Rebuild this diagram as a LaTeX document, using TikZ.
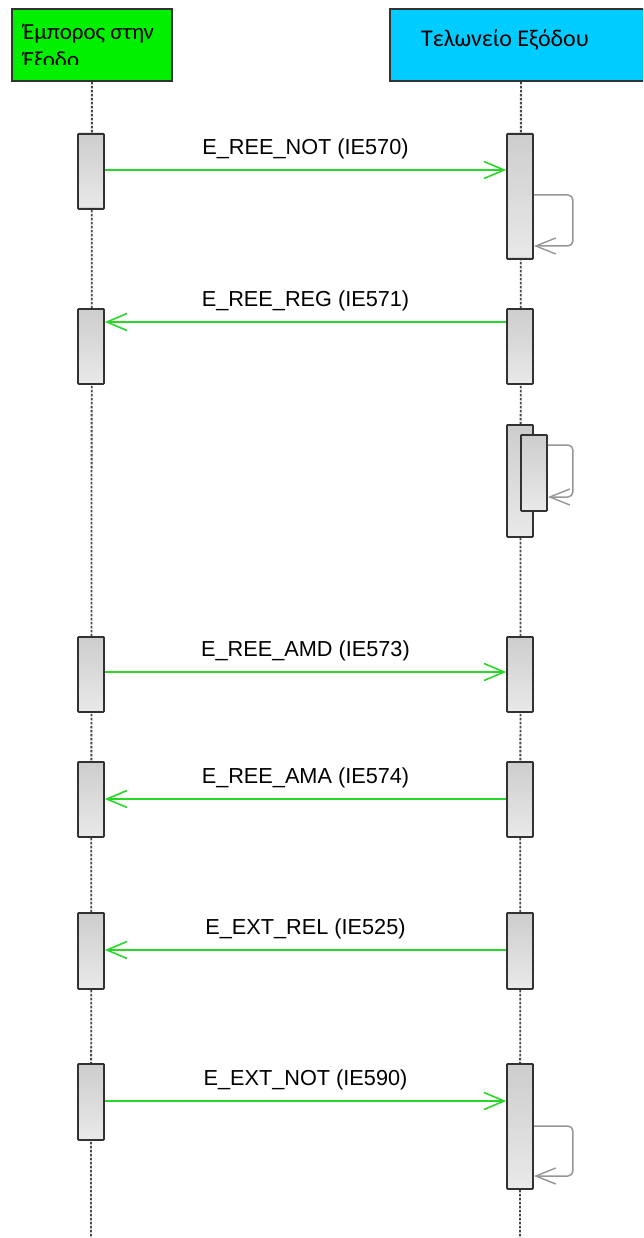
\documentclass[tikz,border=0pt]{standalone}
\usepackage{fontspec}
\setmainfont{Liberation Sans}
\newfontfamily\hdrfont{Carlito}
\usetikzlibrary{arrows.meta}
\definecolor{hgreen}{RGB}{0,240,0}
\definecolor{hcyan}{RGB}{0,204,255}
\definecolor{edgec}{RGB}{50,50,50}
\definecolor{msggreen}{RGB}{40,215,40}
\definecolor{loopgray}{RGB}{150,150,150}
\definecolor{lifegray}{RGB}{70,70,70}
\definecolor{actTop}{RGB}{205,205,205}
\definecolor{actBot}{RGB}{233,233,233}
\begin{document}
\begin{tikzpicture}[x=1pt,y=-1pt,
  header/.style={draw=edgec,line width=1.8pt,minimum height=72pt,inner sep=0pt},
  hdr/.style={font=\hdrfont\fontsize{23}{26}\selectfont,text=black,inner sep=0pt},
  act/.style={draw=edgec,line width=1.8pt,top color=actTop,bottom color=actBot,minimum width=26pt,inner sep=0pt,rounded corners=0.8pt},
  lifeline/.style={draw=lifegray,line width=1.8pt,dash pattern=on 2.5pt off 1.5pt},
  msg/.style={draw=msggreen,line width=1.8pt,-{Straight Barb[length=20pt,width=17pt,line width=1.6pt]}},
  selfmsg/.style={draw=loopgray,line width=1.5pt,rounded corners=5pt,-{Straight Barb[length=20pt,width=16pt,line width=1.4pt]}},
  lbl/.style={font=\fontsize{21.7}{24}\selectfont,text=black,inner sep=0pt}]
\clip (0,0) rectangle (643,1238);
% headers
\node[header,fill=hgreen,minimum width=160pt,anchor=north west] (h1) at (11,8) {};
\node[header,fill=hcyan,minimum width=262pt,anchor=north west] (h2) at (389,8) {};
\begin{scope}
  \clip (11,8) rectangle (171,65);
  \node[hdr,anchor=base west] (t1a) at (23,40) {Έμπορος στην};
  \node[hdr,anchor=base west] (t1b) at (23,68) {Έξοδο};
\end{scope}
\node[hdr,font=\hdrfont\fontsize{24}{26}\selectfont,anchor=base west] (t2) at (421,47) {Τελωνείο Εξόδου};
% lifelines
\coordinate (e1) at (91,1238);
\coordinate (e2) at (520,1238);
\draw[lifeline] (h1.south) -- (e1);
\draw[lifeline] (h2.south) -- (e2);
% activations
\node[act,minimum height=75pt,anchor=north] (l1) at (91,133) {};
\node[act,minimum height=125pt,anchor=north] (r1) at (520,133) {};
\node[act,minimum height=75pt,anchor=north] (l2) at (91,308) {};
\node[act,minimum height=75pt,anchor=north] (r2) at (520,308) {};
\node[act,minimum height=112pt,anchor=north] (r3) at (520,424) {};
\node[act,minimum height=76pt,anchor=north] (r3b) at (534,434) {};
\node[act,minimum height=75pt,anchor=north] (l4) at (91,636) {};
\node[act,minimum height=75pt,anchor=north] (r4) at (520,636) {};
\node[act,minimum height=75pt,anchor=north] (l5) at (91,761) {};
\node[act,minimum height=75pt,anchor=north] (r5) at (520,761) {};
\node[act,minimum height=76pt,anchor=north] (l6) at (91,912) {};
\node[act,minimum height=76pt,anchor=north] (r6) at (520,912) {};
\node[act,minimum height=76pt,anchor=north] (l7) at (91,1063) {};
\node[act,minimum height=125pt,anchor=north] (r7) at (520,1063) {};
% messages
\draw[msg] ([yshift=-37pt]l1.north east) -- node[lbl,yshift=21pt]{E\_REE\_NOT (IE570)} ([yshift=-37pt]r1.north west);
\draw[msg] ([yshift=-14pt]r2.north west) -- node[lbl,yshift=21pt]{E\_REE\_REG (IE571)} ([yshift=-14pt]l2.north east);
\draw[msg] ([yshift=-36pt]l4.north east) -- node[lbl,yshift=21pt]{E\_REE\_AMD (IE573)} ([yshift=-36pt]r4.north west);
\draw[msg] ([yshift=-38pt]r5.north west) -- node[lbl,yshift=21pt]{E\_REE\_AMA (IE574)} ([yshift=-38pt]l5.north east);
\draw[msg] ([yshift=-38pt]r6.north west) -- node[lbl,yshift=21pt]{E\_EXT\_REL (IE525)} ([yshift=-38pt]l6.north east);
\draw[msg] ([yshift=-38pt]l7.north east) -- node[lbl,yshift=21pt]{E\_EXT\_NOT (IE590)} ([yshift=-38pt]r7.north west);
% self messages
\draw[selfmsg] ([yshift=-62pt]r1.north east) -- ++(39,0) -- ++(0,51) -- ([yshift=-113pt]r1.north east);
\draw[selfmsg] ([yshift=-11pt]r3b.north east) -- ++(25,0) -- ++(0,52) -- ([yshift=-63pt]r3b.north east);
\draw[selfmsg] ([yshift=-63pt]r7.north east) -- ++(39,0) -- ++(0,50) -- ([yshift=-113pt]r7.north east);
\end{tikzpicture}
\end{document}
